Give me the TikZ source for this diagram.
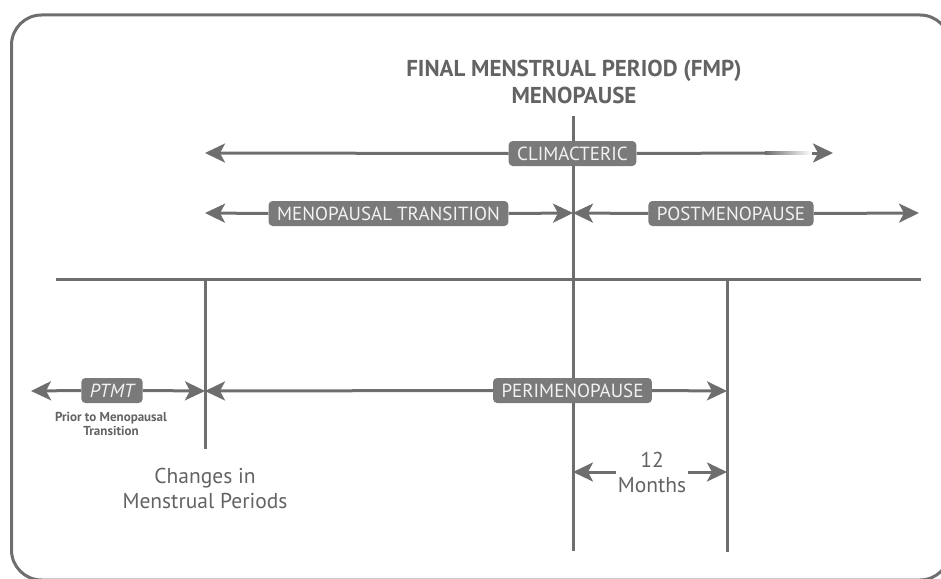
\documentclass[tikz,border=0pt]{standalone}
\usepackage{fontspec}
\setmainfont{PT Sans}
\usetikzlibrary{arrows.meta}

\definecolor{linegray}{HTML}{6E6E6E}
\definecolor{boxgray}{HTML}{7A7A7A}
\definecolor{labelgray}{HTML}{F2F2F2}
\definecolor{textgray}{HTML}{636363}

\tikzset{
    period/.style={fill=boxgray, text=labelgray, rounded corners=4pt, inner xsep=8.5pt,
        inner ysep=0pt, minimum height=25pt, font=\fontsize{19}{20}\selectfont},
    span/.style={draw=linegray, line width=3pt, -{Stealth[length=20pt,width=19pt,inset=5pt]}},
    rule/.style={draw=linegray, line width=3pt},
    note/.style={text=textgray, align=center, inner sep=0pt}
}

\begin{document}
\begin{tikzpicture}[x=1pt, y=-1pt]
    \useasboundingbox (0,0) rectangle (941,578);

    % frame
    \draw[rule, rounded corners=30pt] (11.5,15) rectangle (950,580);

    % title and the FMP line
    \node[note, font=\fontsize{23}{27}\selectfont\bfseries] (fmp) at (574,82)
        {FINAL MENSTRUAL PERIOD (FMP)\\MENOPAUSE};
    \coordinate (fmptop) at (573,116);
    \coordinate (fmpbot) at (573,551);
    \draw[rule] (fmptop) -- (fmpbot);

    % climacteric
    \coordinate (climL) at (205,153);
    \coordinate (fadeL) at (765,153);
    \coordinate (fadeR) at (812,153);
    \coordinate (climR) at (833,153);
    \node[period] (clim) at (572.5,153.5) {CLIMACTERIC};
    \draw[span] (clim.west) -- (climL);
    \draw[rule] (clim.east) -- (fadeL);
    \shade[left color=linegray, right color=white] (765,151.5) rectangle (812,154.5);
    \draw[span] (fadeR) -- (climR);

    % transition and postmenopause
    \coordinate (transL) at (205,213);
    \coordinate (fmpmid) at (573,213);
    \coordinate (postR) at (919,213);
    \node[period] (trans) at (388.5,213.5) {MENOPAUSAL TRANSITION};
    \node[period] (post) at (731,213.5) {POSTMENOPAUSE};
    \draw[span] (trans.west) -- (transL);
    \draw[span] (trans.east) -- (fmpmid);
    \draw[span] (post.west) -- (fmpmid);
    \draw[span] (post.east) -- (postR);

    % base line and the two other marks
    \coordinate (baseL) at (56,279);
    \coordinate (baseR) at (921,279);
    \draw[rule] (baseL) -- (baseR);
    \coordinate (chgtop) at (205,279);
    \coordinate (chgbot) at (205,449);
    \draw[rule] (chgtop) -- (chgbot);
    \coordinate (yeartop) at (727,279);
    \coordinate (yearbot) at (727,552);
    \draw[rule] (yeartop) -- (yearbot);

    % PTMT and perimenopause
    \coordinate (ptmtL) at (31,391);
    \coordinate (chgmid) at (205,391);
    \coordinate (yearmid) at (727,391);
    \node[period, font=\fontsize{19}{20}\selectfont\itshape] (ptmt) at (112,390.5) {PTMT};
    \node[period] (peri) at (572.5,390.5) {PERIMENOPAUSE};
    \draw[span] (ptmt.west) -- (ptmtL);
    \draw[span] (ptmt.east) -- (chgmid);
    \draw[span] (peri.west) -- (chgmid);
    \draw[span] (peri.east) -- (yearmid);
    \node[note, font=\fontsize{13}{14}\selectfont\bfseries] (prior) at (111,424)
        {Prior to Menopausal\\Transition};

    % texts below
    \node[note, font=\fontsize{21.5}{25}\selectfont] (changes) at (205,488)
        {Changes in\\Menstrual Periods};
    \coordinate (monL) at (573,472);
    \coordinate (monR) at (727,472);
    \node[note, inner xsep=2pt, font=\fontsize{21.5}{25}\selectfont] (months) at (652,472)
        {12\\Months};
    \draw[span] (months.west) -- (monL);
    \draw[span] (months.east) -- (monR);
\end{tikzpicture}
\end{document}
